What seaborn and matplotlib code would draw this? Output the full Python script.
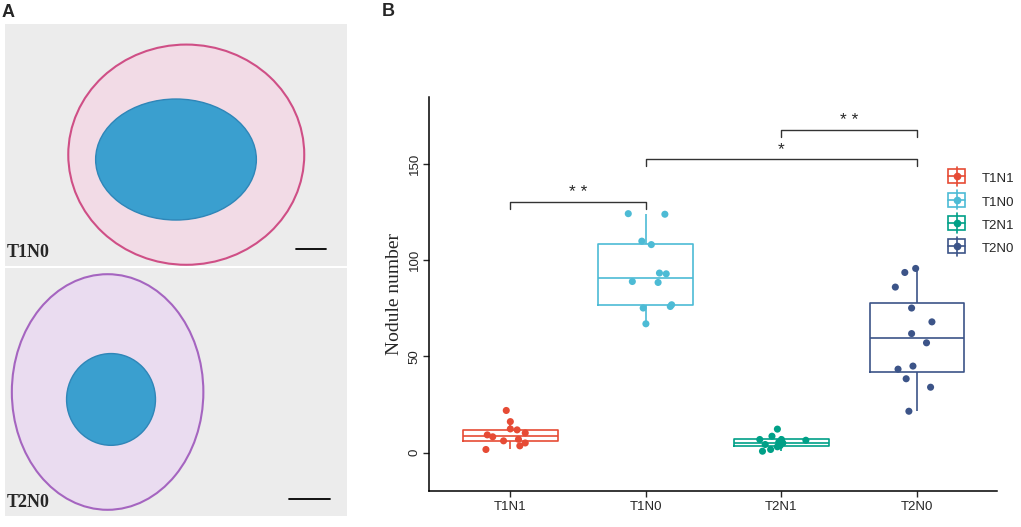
import numpy as np
import pandas as pd
import matplotlib
matplotlib.use("Agg")
import matplotlib.pyplot as plt
import seaborn as sns
from matplotlib.patches import Rectangle, Ellipse
from matplotlib.lines import Line2D
from matplotlib.legend_handler import HandlerBase

# values (12 plants per treatment)
groups = ["T1N1", "T1N0", "T2N1", "T2N0"]
colors = ["#E64B35", "#4DBBD5", "#00A087", "#3C5488"]

t1n1 = [21.9, 16.1, 12.3, 11.8, 10.2, 9.2, 8.2, 6.1, 6.9, 5.0, 3.5, 1.6]
t1n0 = [124.3, 124.0, 110.0, 108.2, 93.4, 93.0, 89.0, 88.5, 75.2, 76.9, 76.0, 67.0]
t2n1 = [12.2, 8.5, 6.8, 6.4, 6.8, 5.4, 4.2, 3.0, 1.6, 0.7, 5.0, 3.6]
t2n0 = [95.8, 93.7, 86.1, 75.2, 68.0, 61.9, 57.1, 45.0, 43.4, 38.4, 34.0, 21.5]

# horizontal jitter of each point, as seen in the picture
jit_t1n1 = [-0.03, 0.0, 0.0, 0.05, 0.11, -0.17, -0.13, -0.05, 0.06, 0.11, 0.07, -0.18]
jit_t1n0 = [-0.13, 0.14, -0.03, 0.04, 0.10, 0.15, -0.10, 0.09, -0.02, 0.19, 0.18, 0.0]
jit_t2n1 = [-0.03, -0.07, -0.16, 0.18, 0.0, -0.02, -0.12, -0.03, -0.08, -0.14, 0.01, -0.01]
jit_t2n0 = [-0.01, -0.09, -0.16, -0.04, 0.11, -0.04, 0.07, -0.03, -0.14, -0.08, 0.10, -0.06]

# significance brackets: (left group, right group, height, label)
sig_pairs = [(0, 1, 130.5, "* *"), (1, 3, 153.0, "*"), (2, 3, 168.0, "* *")]

values = [t1n1, t1n0, t2n1, t2n0]
jitters = [jit_t1n1, jit_t1n0, jit_t2n1, jit_t2n0]
df = pd.DataFrame({
    "group": np.repeat(groups, [len(v) for v in values]),
    "nodules": np.concatenate(values),
    "jit": np.concatenate(jitters),
})
df["xpos"] = df["group"].map({g: i for i, g in enumerate(groups)}) + df["jit"]
palette = dict(zip(groups, colors))


class BoxKey(HandlerBase):
    def create_artists(self, legend, orig, x0, y0, w, h, fontsize, trans):
        c = orig.get_color()
        cx, cy = x0 + w / 2, y0 + h * 0.05
        bw, bh = w * 0.95, h * 0.75
        box = Rectangle((cx - bw / 2, cy - bh / 2), bw, bh, fill=False,
                        edgecolor=c, lw=1.2, transform=trans)
        med = Line2D([cx - bw / 2, cx + bw / 2], [cy, cy], color=c, lw=1.2, transform=trans)
        wh = Line2D([cx, cx], [cy - h * 0.52, cy + h * 0.52], color=c, lw=1.2, transform=trans)
        dot = Line2D([cx], [cy], marker="o", ms=4.5, color=c, lw=0, transform=trans)
        return [wh, box, med, dot]


sns.set_theme(style="white")
plt.rcParams["font.family"] = ["Liberation Sans", "DejaVu Sans"]

fig = plt.figure(figsize=(10.21, 5.27), dpi=100)

# ---- panel A: stylised stand-ins for the two micrographs ----
def micro(rect, ring, core, label, bar):
    a = fig.add_axes(rect)
    a.set_xlim(0, 1)
    a.set_ylim(0, 1)
    a.add_patch(Rectangle((0, 0), 1, 1, facecolor="#ececec", edgecolor="none"))
    a.add_patch(Ellipse(ring[:2], ring[2], ring[3], facecolor=ring[4], edgecolor=ring[5], lw=1.5))
    a.add_patch(Ellipse(core[:2], core[2], core[3], facecolor="#3a9fcf", edgecolor="#2f86b8", lw=1))
    a.plot(bar[:2], [bar[2], bar[2]], color="black", lw=1.3)
    a.text(0.005, 0.02, label, family="Liberation Serif", fontsize=13, fontweight="bold",
           ha="left", va="bottom")
    a.set_axis_off()
    return a

micro([5 / 1021, 1 - 266 / 527, 342 / 1021, 242 / 527],
      (0.53, 0.46, 0.69, 0.91, "#f2dbe6", "#cf4f86"),
      (0.50, 0.44, 0.47, 0.50), "T1N0", (0.85, 0.94, 0.07))
micro([5 / 1021, 1 - 516 / 527, 342 / 1021, 248 / 527],
      (0.30, 0.50, 0.56, 0.95, "#eadcf0", "#a565c0"),
      (0.31, 0.47, 0.26, 0.37), "T2N0", (0.83, 0.95, 0.07))
fig.text(2 / 1021, 1 - 17 / 527, "A", fontsize=13, fontweight="bold")
fig.text(382 / 1021, 1 - 16 / 527, "B", fontsize=13, fontweight="bold")

# ---- panel B: boxplot with points ----
ax = fig.add_axes([429 / 1021, 36 / 527, 568 / 1021, 394 / 527])
sns.boxplot(data=df, x="group", y="nodules", hue="group", order=groups, palette=palette,
            fill=False, width=0.7, showfliers=False, showcaps=False, linewidth=1.2,
            legend=False, ax=ax)
sns.scatterplot(data=df, x="xpos", y="nodules", hue="group", palette=palette, s=26,
                edgecolor="none", legend=False, ax=ax, zorder=3)

for i, j, y, lab in sig_pairs:
    ax.plot([i, i, j, j], [y - 4, y, y, y - 4], color="#333333", lw=1.0)
    ax.text((i + j) / 2, y + 0.8, lab, ha="center", va="bottom", fontsize=12.5)

ax.set_xlim(-0.6, 3.59)
ax.set_ylim(-20, 185)
ax.set_yticks([0, 50, 100, 150])
ax.set_xticks(range(len(groups)))
ax.set_xticklabels(groups)
ax.tick_params(axis="y", labelrotation=90, labelsize=9.5, length=4, width=1, direction="out",
               left=True, pad=2)
ax.tick_params(axis="x", labelsize=9.5, length=4, width=1, direction="out", bottom=True, pad=3)
for lbl in ax.get_yticklabels():
    lbl.set_va("center")
ax.set_xlabel("")
ax.set_ylabel("Nodule number", family="Liberation Serif", fontsize=14, labelpad=4)
for side in ["top", "right"]:
    ax.spines[side].set_visible(False)
for side in ["left", "bottom"]:
    ax.spines[side].set_color("black")
    ax.spines[side].set_linewidth(1.1)

handles = [Line2D([], [], color=c) for c in colors]
fig.legend(handles, groups, handler_map={Line2D: BoxKey()}, loc="upper left",
           bbox_to_anchor=(936 / 1021, 1 - 157 / 527), frameon=False, fontsize=9.5,
           handlelength=1.35, handleheight=1.8, labelspacing=0.35, handletextpad=1.2)

fig.savefig("out.png", dpi=100)
